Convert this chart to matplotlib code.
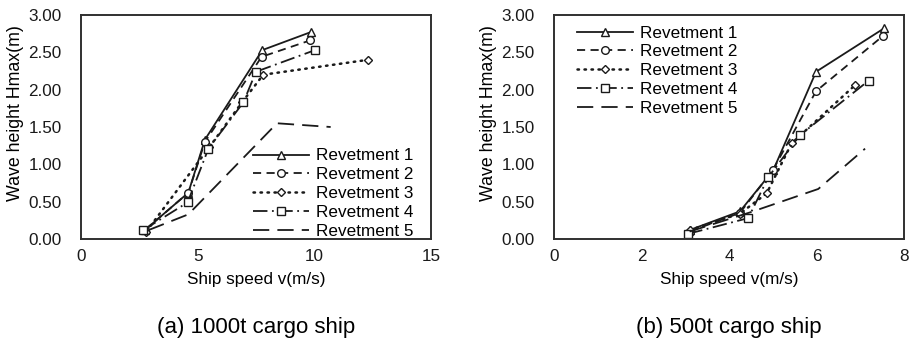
import matplotlib
matplotlib.use("Agg")
import numpy as np
from matplotlib import pyplot as plt

plt.rcParams['font.family'] = ['Liberation Sans', 'DejaVu Sans']

# (a) 1000t cargo ship
a_v1 = [2.74, 4.60, 5.31, 7.77, 9.84]
a_h1 = [0.12, 0.62, 1.33, 2.53, 2.77]
a_v2 = [2.74, 4.60, 5.31, 7.74, 9.82]
a_h2 = [0.12, 0.62, 1.30, 2.44, 2.66]
a_v3 = [2.80, 5.50, 6.90, 7.81, 12.30]
a_h3 = [0.10, 1.23, 1.83, 2.20, 2.40]
a_v4 = [2.67, 4.57, 5.46, 6.96, 7.50, 10.03]
a_h4 = [0.12, 0.49, 1.21, 1.83, 2.24, 2.53]
a_v5 = [2.90, 4.60, 8.40, 10.70]
a_h5 = [0.12, 0.33, 1.55, 1.50]

# (b) 500t cargo ship
b_v1 = [3.10, 4.25, 5.01, 5.99, 7.54]
b_h1 = [0.12, 0.37, 0.92, 2.24, 2.82]
b_v2 = [3.10, 4.25, 5.00, 5.99, 7.52]
b_h2 = [0.10, 0.35, 0.92, 1.98, 2.72]
b_v3 = [3.10, 4.25, 4.86, 5.43, 6.88]
b_h3 = [0.12, 0.34, 0.61, 1.28, 2.06]
b_v4 = [3.07, 4.44, 4.90, 5.62, 7.19]
b_h4 = [0.07, 0.28, 0.83, 1.39, 2.12]
b_v5 = [3.10, 4.50, 6.04, 7.11]
b_h5 = [0.10, 0.36, 0.67, 1.21]

labels = ['Revetment 1', 'Revetment 2', 'Revetment 3', 'Revetment 4', 'Revetment 5']

col = '#1a1a1a'
# 线型和标记
styles = [
    dict(ls='-', marker='^', lw=1.3),
    dict(ls=(0, (4.5, 3)), marker='o', lw=1.3),
    dict(ls=(0, (0.6, 2.2)), marker='D', lw=1.8, dash_capstyle='round'),
    dict(ls=(0, (8, 2.5, 1, 2.5)), marker='s', lw=1.3),
    dict(ls=(0, (9, 4.5)), marker=None, lw=1.3),
]

fig = plt.figure(figsize=(9.14, 3.40), dpi=100)
W, H = 914.0, 340.0


def panel(x0, data, xmax, xstep, caption, leg_xy):
    ax = fig.add_axes([x0 / W, 101 / H, 350 / W, 224 / H])
    for (v, h), lab, st in zip(data, labels, styles):
        ms = 4.5 if st['marker'] == 'D' else 5.5
        ax.plot(v, h, color=col, markersize=ms, markerfacecolor='white',
                markeredgecolor=col, markeredgewidth=1.0, label=lab, **st)
    ax.set_xlim(0, xmax)
    ax.set_ylim(0, 3)
    ax.set_xticks(np.arange(0, xmax + 0.01, xstep))
    ax.set_yticks(np.arange(0, 3.01, 0.5))
    ax.set_yticklabels(['%.2f' % t for t in np.arange(0, 3.01, 0.5)])
    ax.tick_params(axis='y', length=0, pad=14, labelsize=12.3, colors='#1a1a1a')
    ax.tick_params(axis='x', length=0, pad=7, labelsize=12.3, colors='#1a1a1a')
    for s in ax.spines.values():
        s.set_linewidth(1.4)
        s.set_color('#303030')
    ax.set_xlabel('Ship speed v(m/s)', fontsize=12.3, labelpad=6)
    ax.set_ylabel('Wave height Hmax(m)', fontsize=12.8)
    ax.yaxis.set_label_coords(-0.162, 0.56)
    fig.text((x0 + 175) / W, 1 - 327 / H, caption, fontsize=16, ha='center', va='center')
    ax.legend(loc='upper left', bbox_to_anchor=(leg_xy[0] / W, 1 - leg_xy[1] / H),
              bbox_transform=fig.transFigure, frameon=False, fontsize=12.3,
              borderpad=0, borderaxespad=0, handlelength=3.3, handletextpad=0.4,
              labelspacing=0.22)
    return ax


panel(81, [(a_v1, a_h1), (a_v2, a_h2), (a_v3, a_h3), (a_v4, a_h4), (a_v5, a_h5)],
      15, 5, '(a) 1000t cargo ship', (253, 148.5))
panel(554, [(b_v1, b_h1), (b_v2, b_h2), (b_v3, b_h3), (b_v4, b_h4), (b_v5, b_h5)],
      8, 2, '(b) 500t cargo ship', (577, 25.5))

fig.savefig('out.png', dpi=100)
